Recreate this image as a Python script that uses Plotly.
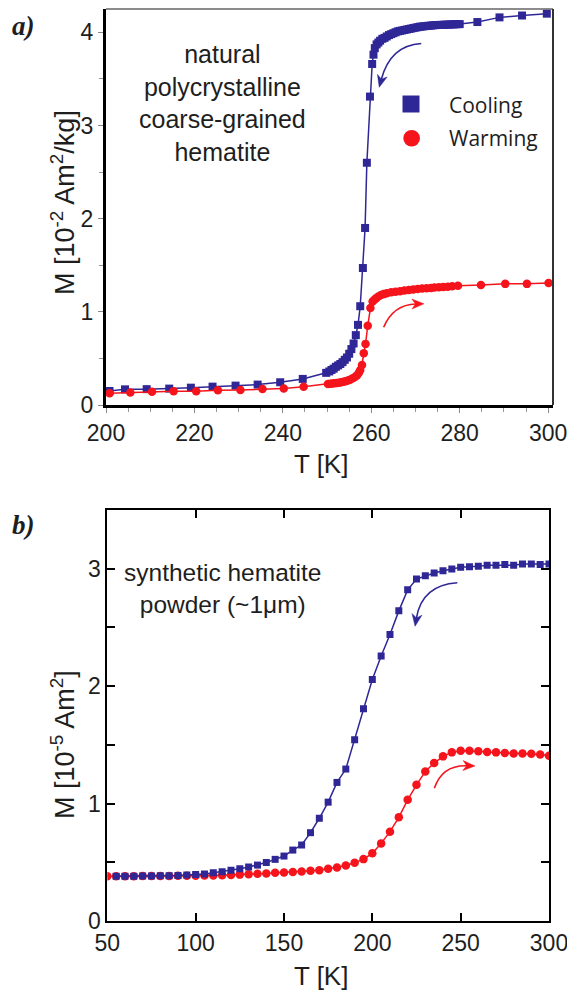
import math
import plotly.graph_objects as go

# ---------------- data: panel a (natural coarse-grained hematite) ----------------
cool_T_a = [200.8, 204.3, 209.2, 214.3, 219.2, 224.1, 229.3, 234.3, 239.4, 244.5,
            249.8, 250.5, 251.0, 251.5, 252.0, 252.5, 253.0, 253.5, 254.0, 254.5,
            255.0, 255.5, 256.0, 256.5, 257.0, 257.5, 258.1, 258.6, 259.0, 259.7,
            260.2, 260.5, 260.8, 261.2, 261.6, 262.0, 262.5, 263.0, 263.5, 264.0,
            264.5, 265.0, 265.5, 266.0, 266.5, 267.0, 267.5, 268.0, 268.5, 269.0,
            269.5, 270.0, 270.5, 271.0, 271.5, 272.0, 272.5, 273.0, 273.5, 274.0,
            274.5, 275.0, 275.5, 276.0, 276.5, 277.0, 277.5, 278.0, 278.5, 279.0,
            279.5, 280.0, 284.0, 289.0, 294.1, 299.7]
cool_M_a = [0.15, 0.168, 0.17, 0.176, 0.186, 0.197, 0.208, 0.219, 0.244, 0.28,
            0.345, 0.36, 0.376, 0.39, 0.41, 0.425, 0.44, 0.46, 0.485, 0.51,
            0.55, 0.60, 0.66, 0.75, 0.86, 1.06, 1.47, 1.90, 2.60, 3.31,
            3.66, 3.76, 3.83, 3.87, 3.89, 3.91, 3.93, 3.94, 3.955, 3.97,
            3.98, 3.99, 4.00, 4.01, 4.015, 4.02, 4.025, 4.03, 4.035, 4.04,
            4.045, 4.05, 4.055, 4.06, 4.062, 4.065, 4.068, 4.07, 4.072, 4.075,
            4.077, 4.078, 4.079, 4.08, 4.081, 4.082, 4.083, 4.084, 4.085, 4.086,
            4.087, 4.088, 4.11, 4.16, 4.18, 4.20]

warm_T_a = [200.8, 205.5, 210.4, 215.3, 220.4, 225.3, 230.4, 235.4, 240.2, 244.7,
            250.2, 250.7, 251.2, 251.7, 252.2, 252.7, 253.2, 253.7, 254.2, 254.7,
            255.2, 255.8, 256.3, 256.8, 257.2, 257.5, 257.9, 258.3, 258.7, 259.2,
            259.8, 260.3, 260.7, 261.1, 261.6, 262.2, 262.8, 263.5, 264.5, 265.5,
            266.5, 267.5, 268.5, 269.5, 270.5, 271.5, 272.5, 273.5, 274.3, 275.3,
            276.3, 277.3, 278.3, 279.6, 284.8, 290.3, 295.2, 300.1]
warm_M_a = [0.125, 0.133, 0.143, 0.147, 0.147, 0.158, 0.161, 0.172, 0.176, 0.197,
            0.226, 0.228, 0.23, 0.233, 0.236, 0.24, 0.244, 0.25, 0.255, 0.262,
            0.27, 0.287, 0.30, 0.32, 0.345, 0.376, 0.43, 0.556, 0.656, 0.85,
            1.04, 1.11, 1.13, 1.147, 1.165, 1.18, 1.19, 1.20, 1.21, 1.215,
            1.22, 1.23, 1.235, 1.24, 1.245, 1.25, 1.253, 1.256, 1.26, 1.263,
            1.266, 1.27, 1.275, 1.28, 1.287, 1.30, 1.30, 1.31]

# ---------------- data: panel b (synthetic hematite powder) ----------------
cool_T_b = [55, 60, 65, 70, 75, 80, 85, 90, 95, 100, 105, 110, 115, 120, 125, 130,
            135, 140, 145, 150, 155, 160, 165, 170, 175, 180, 185, 190, 195, 200,
            205, 210, 215, 220, 225, 230, 235, 240, 245, 250, 255, 260, 265, 270,
            275, 280, 285, 290, 295, 300]
cool_M_b = [0.382, 0.382, 0.382, 0.383, 0.384, 0.385, 0.386, 0.388, 0.392, 0.395,
            0.40, 0.41, 0.42, 0.432, 0.445, 0.46, 0.476, 0.498, 0.525, 0.553,
            0.604, 0.647, 0.752, 0.875, 1.012, 1.18, 1.294, 1.544, 1.807, 2.057,
            2.257, 2.439, 2.641, 2.82, 2.912, 2.94, 2.963, 2.983, 2.997, 3.012,
            3.017, 3.02, 3.03, 3.03, 3.035, 3.03, 3.04, 3.04, 3.035, 3.04]

warm_T_b = [50, 55, 60, 65, 70, 75, 80, 85, 90, 95, 100, 105, 110, 115, 120, 125,
            130, 135, 140, 145, 150, 155, 160, 165, 170, 175, 180, 185, 190, 195,
            200, 205, 210, 215, 220, 225, 230, 235, 240, 245, 250, 255, 260, 265,
            270, 275, 280, 285, 290, 295, 300]
warm_M_b = [0.382, 0.382, 0.382, 0.382, 0.383, 0.383, 0.384, 0.384, 0.385, 0.385,
            0.386, 0.387, 0.388, 0.39, 0.392, 0.395, 0.398, 0.402, 0.405, 0.41,
            0.413, 0.418, 0.422, 0.428, 0.433, 0.445, 0.456, 0.473, 0.496, 0.527,
            0.576, 0.661, 0.761, 0.883, 1.032, 1.16, 1.274, 1.345, 1.402, 1.436,
            1.45, 1.45, 1.446, 1.44, 1.436, 1.43, 1.427, 1.427, 1.424, 1.418, 1.407]

# tick values
ticks_a_y = [0, 1, 2, 3, 4]
ticks_b_y = [0, 1, 2, 3]

BLUE = "#2f2796"
RED = "#f5141b"
FONT = "Liberation Sans, Arial, sans-serif"
TXT = "#1e1e1e"

W, H = 567, 994
ML, MR, MT, MB = 106, 14, 9, 73
PW, PH = W - ML - MR, H - MT - MB

XA_RANGE, YA_RANGE = [200, 301.1], [0, 4.25]
XB_RANGE, YB_RANGE = [50, 300], [0, 3.5]


def px(xp):
    return (xp - ML) / PW


def py(yp):
    return (H - MB - yp) / PH


xa_dom = [0.0, 1.0]
ya_dom = [py(405), 1.0]
xb_dom = [px(107.3), px(549)]
yb_dom = [0.0, py(510)]


def to_paper(panel, t, m):
    if panel == "a":
        xd, yd, xr, yr = xa_dom, ya_dom, XA_RANGE, YA_RANGE
    else:
        xd, yd, xr, yr = xb_dom, yb_dom, XB_RANGE, YB_RANGE
    fx = xd[0] + (t - xr[0]) / (xr[1] - xr[0]) * (xd[1] - xd[0])
    fy = yd[0] + (m - yr[0]) / (yr[1] - yr[0]) * (yd[1] - yd[0])
    return fx, fy


fig = go.Figure()

fig.add_trace(go.Scatter(x=cool_T_a, y=cool_M_a, mode="lines+markers", xaxis="x", yaxis="y",
                         line=dict(color=BLUE, width=1.5),
                         marker=dict(symbol="square", size=8, color=BLUE), showlegend=False))
fig.add_trace(go.Scatter(x=warm_T_a, y=warm_M_a, mode="lines+markers", xaxis="x", yaxis="y",
                         line=dict(color=RED, width=1.5),
                         marker=dict(symbol="circle", size=8.5, color=RED), showlegend=False))
fig.add_trace(go.Scatter(x=warm_T_b, y=warm_M_b, mode="lines+markers", xaxis="x2", yaxis="y2",
                         line=dict(color=RED, width=1.5),
                         marker=dict(symbol="circle", size=8.5, color=RED), showlegend=False))
fig.add_trace(go.Scatter(x=cool_T_b, y=cool_M_b, mode="lines+markers", xaxis="x2", yaxis="y2",
                         line=dict(color=BLUE, width=1.5),
                         marker=dict(symbol="square", size=7, color=BLUE), showlegend=False))

TICKFONT = dict(family=FONT, size=23, color=TXT)
fig.update_layout(
    width=W, height=H, autosize=False,
    margin=dict(l=ML, r=MR, t=MT, b=MB, pad=0, autoexpand=False),
    paper_bgcolor="white", plot_bgcolor="white",
    font=dict(family=FONT, size=22, color=TXT),
    xaxis=dict(domain=xa_dom, anchor="y", range=XA_RANGE, dtick=20, tick0=200,
               showline=True, linewidth=3, linecolor="black", mirror=False,
               ticks="outside", ticklen=5, tickwidth=1, tickcolor="#888",
               minor=dict(dtick=5, ticks="outside", ticklen=4, tickcolor="#999"),
               showgrid=False, zeroline=False, automargin=False, ticklabeloverflow="allow",
               tickfont=TICKFONT),
    yaxis=dict(domain=ya_dom, anchor="x", range=YA_RANGE, tickvals=ticks_a_y,
               showline=True, linewidth=3, linecolor="black", mirror=False,
               ticks="outside", ticklen=5, tickwidth=1, tickcolor="#888",
               minor=dict(dtick=0.5, ticks="outside", ticklen=4, tickcolor="#999"),
               showgrid=False, zeroline=False, automargin=False, ticklabeloverflow="allow",
               tickfont=TICKFONT),
    xaxis2=dict(domain=xb_dom, anchor="y2", range=XB_RANGE, dtick=50, tick0=50,
                showline=True, linewidth=2, linecolor="black", mirror="ticks",
                ticks="inside", ticklen=8, tickwidth=2, tickcolor="black",
                showgrid=False, zeroline=False, automargin=False, ticklabeloverflow="allow",
                tickfont=TICKFONT),
    yaxis2=dict(domain=yb_dom, anchor="x2", range=YB_RANGE, tickvals=ticks_b_y,
                showline=True, linewidth=2, linecolor="black", mirror="ticks",
                ticks="inside", ticklen=8, tickwidth=2, tickcolor="black",
                minor=dict(dtick=0.5, ticks="inside", ticklen=8, tickwidth=2, tickcolor="black"),
                showgrid=False, zeroline=False, automargin=False, ticklabeloverflow="allow",
                tickfont=TICKFONT),
)

shapes = []
shapes.append(dict(type="line", xref="x domain", yref="y domain", x0=0, x1=1, y0=1, y1=1,
                   line=dict(color="#666", width=1.5)))
shapes.append(dict(type="line", xref="x domain", yref="y domain", x0=1, x1=1, y0=0, y1=1,
                   line=dict(color="#333", width=2)))

# curved arrows: (panel, start, control, end) in data units
arrows = [
    ("a", (271.3, 3.88), (264.3, 3.86), (261.8, 3.41), BLUE),
    ("a", (262.8, 0.835), (265.0, 1.08), (271.9, 1.086), RED),
    ("b", (248.1, 2.88), (228.0, 2.86), (224.2, 2.51), BLUE),
    ("b", (235.1, 1.13), (239.5, 1.33), (258.1, 1.32), RED),
]
HEAD_L, HEAD_W = 12.0, 5.0
for panel, s, c, e, col in arrows:
    ps, pc, pe = (to_paper(panel, *p) for p in (s, c, e))
    sx, sy = ML + ps[0] * PW, H - MB - ps[1] * PH
    cx, cy = ML + pc[0] * PW, H - MB - pc[1] * PH
    ex, ey = ML + pe[0] * PW, H - MB - pe[1] * PH
    dx, dy = ex - cx, ey - cy
    n = math.hypot(dx, dy)
    ux, uy = dx / n, dy / n
    bx, by = ex - HEAD_L * ux, ey - HEAD_L * uy
    shapes.append(dict(type="path", xref="paper", yref="paper",
                       path=f"M {px(sx)},{py(sy)} Q {px(cx)},{py(cy)} {px(bx + 4*ux)},{py(by + 4*uy)}",
                       line=dict(color=col, width=1.6)))
    lx, ly = bx - HEAD_W * uy, by + HEAD_W * ux
    rx, ry = bx + HEAD_W * uy, by - HEAD_W * ux
    notch_x, notch_y = ex - 0.7 * HEAD_L * ux, ey - 0.7 * HEAD_L * uy
    shapes.append(dict(type="path", xref="paper", yref="paper",
                       path=(f"M {px(ex)},{py(ey)} L {px(lx)},{py(ly)} "
                             f"L {px(notch_x)},{py(notch_y)} L {px(rx)},{py(ry)} Z"),
                       fillcolor=col, line=dict(color=col, width=0.5)))

annotations = []
shapes.append(dict(type="rect", xref="paper", yref="paper",
                   x0=px(402.5), x1=px(419.5), y0=py(112.5), y1=py(95.5),
                   fillcolor=BLUE, line=dict(width=0)))
shapes.append(dict(type="circle", xref="paper", yref="paper",
                   x0=px(403.3), x1=px(420), y0=py(146.6), y1=py(129.9),
                   fillcolor=RED, line=dict(width=0)))
annotations.append(dict(x=px(447), y=py(105), xref="paper", yref="paper", text="Cooling",
                        showarrow=False, xanchor="left", yanchor="middle",
                        font=dict(family="Open Sans, sans-serif", size=21, color=TXT)))
annotations.append(dict(x=px(447), y=py(138), xref="paper", yref="paper", text="Warming",
                        showarrow=False, xanchor="left", yanchor="middle",
                        font=dict(family="Open Sans, sans-serif", size=21, color=TXT)))

annotations.append(dict(x=px(222), y=py(103.5), xref="paper", yref="paper",
                        text="natural<br>polycrystalline<br>coarse-grained<br>hematite",
                        showarrow=False, xanchor="center", yanchor="middle", align="center",
                        font=dict(family=FONT, size=25, color=TXT)))
annotations.append(dict(x=px(222), y=py(588), xref="paper", yref="paper",
                        text="synthetic hematite<br>powder (~1μm)",
                        showarrow=False, xanchor="center", yanchor="middle", align="center",
                        font=dict(family=FONT, size=24.5, color=TXT)))

annotations.append(dict(x=px(63), y=py(203), xref="paper", yref="paper",
                        text="M [10<sup>-2</sup> Am<sup>2</sup>/kg]", textangle=-90,
                        showarrow=False, xanchor="center", yanchor="middle",
                        font=dict(family=FONT, size=27, color=TXT)))
annotations.append(dict(x=px(63), y=py(745), xref="paper", yref="paper",
                        text="M [10<sup>-5</sup> Am<sup>2</sup>]", textangle=-90,
                        showarrow=False, xanchor="center", yanchor="middle",
                        font=dict(family=FONT, size=27, color=TXT)))
annotations.append(dict(x=px(321), y=py(464), xref="paper", yref="paper", text="T [K]",
                        showarrow=False, xanchor="center", yanchor="middle",
                        font=dict(family=FONT, size=26, color=TXT)))
annotations.append(dict(x=px(321), y=py(976), xref="paper", yref="paper", text="T [K]",
                        showarrow=False, xanchor="center", yanchor="middle",
                        font=dict(family=FONT, size=26, color=TXT)))

annotations.append(dict(x=px(10), y=py(26), xref="paper", yref="paper", text="<b><i>a)</i></b>",
                        showarrow=False, xanchor="left", yanchor="middle",
                        font=dict(family="Liberation Serif, Times New Roman, serif", size=27, color=TXT)))
annotations.append(dict(x=px(10), y=py(525), xref="paper", yref="paper", text="<b><i>b)</i></b>",
                        showarrow=False, xanchor="left", yanchor="middle",
                        font=dict(family="Liberation Serif, Times New Roman, serif", size=27, color=TXT)))

fig.update_layout(shapes=shapes, annotations=annotations)

fig.write_html("out.html", config={"responsive": False})
